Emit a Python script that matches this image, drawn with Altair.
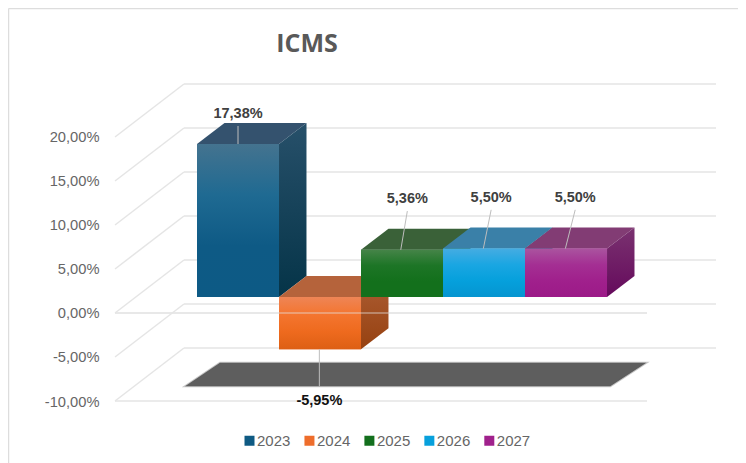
import altair as alt
import pandas as pd

YEARS = ["2023", "2024", "2025", "2026", "2027"]
VALUES = [17.38, -5.95, 5.36, 5.50, 5.50]
LABELS = ["17,38%", "-5,95%", "5,36%", "5,50%", "5,50%"]
TICKS = [-10, -5, 0, 5, 10, 15, 20]
FRONT_LINES = [-10, 0]

LEGEND_COLORS = ["#0f5a83", "#ee6d2b", "#136f1d", "#07a0dc", "#a0218c"]
FRONT_STOPS = [
    ["#44738f", "#1f6a92", "#0e5a85", "#0d5a85"],
    ["#ee8556", "#f4752f", "#ee6a1e", "#dd5f14"],
    ["#458448", "#1d7526", "#13701c", "#13701c"],
    ["#45ace2", "#1aa6e2", "#05a0dc", "#0595d0"],
    ["#aa549f", "#a42f93", "#a0208c", "#9c1a88"],
]
TOP_COLORS = ["#34526e", "#b5633b", "#3a6138", "#3a80a8", "#823c74"]
SIDE_STOPS = [
    ["#27506a", "#053448"],
    ["#ad5e35", "#964110"],
    ["#2f5a30", "#0c4a12"],
    ["#2b6a90", "#04688f"],
    ["#7a3270", "#650a5c"],
]
# Leader lines: shift from face centre (categories) and length (percentage points)
LEADER_START = [0.0, -0.008, -0.015, -0.008, -0.008]
LEADER_DX = [0.0, 0.0, 0.08, 0.095, 0.12]
LEADER_DY = [2.05, -4.2, 4.4, 4.4, 4.4]
LABEL_GAP = [1.35, -1.7, 1.35, 1.35, 1.35]
LABEL_COLORS = ["#404040", "#111111", "#404040", "#404040", "#404040"]

# Projection constants
WALL_DX, WALL_DY = 0.841, 6.02     # back wall offset from the axis plane
BAR_DX, BAR_DY = 0.335, 2.386      # bar depth
BASE = 1.82                        # bars' zero level relative to the axis plane
X_MIN, X_MAX = -1.0, 6.329
Y_MIN, Y_MAX = -10.0, 26.02
RIGHT_BACK = 6.329
RIGHT_FRONT = RIGHT_BACK - WALL_DX
SHADOW_Y = [-8.32, -5.66]
SHADOW_L = [-0.146, 0.28]
SHADOW_R = [5.04, 5.48]
GRID = "#e5e5e5"
FONT = "Liberation Sans"

xs = alt.Scale(domain=[X_MIN, X_MAX], nice=False, zero=False)
ys = alt.Scale(domain=[Y_MIN, Y_MAX], nice=False, zero=False)
y_axis = alt.Axis(
    values=TICKS, domain=False, ticks=False, grid=False, labelPadding=16,
    labelFontSize=14.7, labelColor="#666666", labelFont=FONT, labelOffset=1,
    labelExpr="replace(replace(format(datum.value,'.2f'),'.',','),'\u2212','-')+'%'",
)


def X(f="x"):
    return alt.X(f"{f}:Q", scale=xs, axis=None)


def Y(f="y"):
    return alt.Y(f"{f}:Q", scale=ys, axis=y_axis, title=None)


def grad(colors):
    n = len(colors) - 1
    return alt.LinearGradient(
        gradient="linear", x1=0, x2=0, y1=0, y2=1,
        stops=[alt.GradientStop(color=c, offset=i / n) for i, c in enumerate(colors)],
    )


layers = []

# wall and diagonal grid
back = pd.DataFrame({"y": [t + WALL_DY for t in TICKS]})
back["x"] = X_MIN + WALL_DX
back["x2"] = RIGHT_BACK
diag_rows = []
for t in TICKS:
    diag_rows += [{"t": t, "x": X_MIN, "y": t}, {"t": t, "x": X_MIN + WALL_DX, "y": t + WALL_DY}]
front = pd.DataFrame({"y": FRONT_LINES})
front["x"] = X_MIN
front["x2"] = RIGHT_FRONT
layers.append(alt.Chart(back).mark_rule(color=GRID, strokeWidth=1.5).encode(x=X(), x2="x2:Q", y=Y()))
layers.append(alt.Chart(pd.DataFrame(diag_rows)).mark_line(color=GRID, strokeWidth=1.5).encode(
    x=X(), y=Y(), detail="t:N"))
layers.append(alt.Chart(front).mark_rule(color=GRID, strokeWidth=1.5).encode(x=X(), x2="x2:Q", y=Y()))

# floor shadow
shadow = pd.DataFrame({"y": SHADOW_Y, "l": SHADOW_L, "r": SHADOW_R})
layers.append(
    alt.Chart(shadow).mark_area(orient="horizontal", color="#5e5e5e", stroke="#5e5e5e",
                                strokeWidth=2, strokeOpacity=0.35).encode(
        y=Y(), x=X("l"), x2="r:Q")
)

# legend-bearing base faces
base_df = pd.DataFrame({
    "year": YEARS,
    "x": list(range(5)),
    "x2": [i + 1 for i in range(5)],
    "y": [BASE] * 5,
    "y2": [BASE + v for v in VALUES],
})
layers.append(
    alt.Chart(base_df).mark_rect().encode(
        x=X(), x2="x2:Q", y=Y(), y2="y2:Q",
        color=alt.Color("year:N", scale=alt.Scale(domain=YEARS, range=LEGEND_COLORS),
                        legend=alt.Legend(
                            title=None, orient="none", legendX=127, legendY=349,
                            direction="horizontal", columns=5, symbolType="square",
                            symbolSize=100, symbolStrokeWidth=0, labelFontSize=15,
                            labelColor="#666666", labelFont=FONT, columnPadding=10.95,
                            labelOffset=0,
                        )),
    )
)

# bars: painter's order, left to right
for i, v in enumerate(VALUES):
    hi = BASE + max(v, 0)
    lo = BASE + min(v, 0)
    top = pd.DataFrame({
        "y": [hi, hi + BAR_DY],
        "l": [i, i + BAR_DX],
        "r": [i + 1, i + 1 + BAR_DX],
    })
    side = pd.DataFrame({
        "x": [i + 1, i + 1 + BAR_DX],
        "y": [hi, hi + BAR_DY],
        "y2": [lo, lo + BAR_DY],
    })
    face = pd.DataFrame({"x": [i], "x2": [i + 1], "y": [hi], "y2": [lo]})
    layers.append(alt.Chart(top).mark_area(orient="horizontal", color=TOP_COLORS[i]).encode(
        y=Y(), x=X("l"), x2="r:Q"))
    layers.append(alt.Chart(side).mark_area(orient="vertical", fill=grad(SIDE_STOPS[i])).encode(
        x=X(), y=Y(), y2="y2:Q"))
    layers.append(alt.Chart(face).mark_rect(fill=grad(FRONT_STOPS[i])).encode(
        x=X(), x2="x2:Q", y=Y(), y2="y2:Q"))

# zero line shows faintly through the bars
zero = front[front["y"] == 0]
layers.append(alt.Chart(zero).mark_rule(color=GRID, strokeWidth=1.5, opacity=0.5).encode(
    x=X(), x2="x2:Q", y=Y()))

# leaders and labels
lead_rows = []
text_rows = []
for i, v in enumerate(VALUES):
    x0 = i + 0.5 + LEADER_START[i]
    y0 = BASE + v
    x1 = x0 + LEADER_DX[i]
    y1 = y0 + LEADER_DY[i]
    lead_rows += [{"i": i, "x": x0, "y": y0}, {"i": i, "x": x1, "y": y1}]
    text_rows.append({"x": x1, "y": y1 + LABEL_GAP[i], "label": LABELS[i], "c": LABEL_COLORS[i]})
layers.append(alt.Chart(pd.DataFrame(lead_rows)).mark_line(color="#bdbdbd", strokeWidth=1).encode(
    x=X(), y=Y(), detail="i:N"))
layers.append(alt.Chart(pd.DataFrame(text_rows)).mark_text(
    fontSize=14.5, fontWeight="bold", font=FONT, baseline="middle", align="center").encode(
    x=X(), y=Y(), text="label:N", color=alt.Color("c:N", scale=None, legend=None)))

# chart title
layers.append(alt.Chart(pd.DataFrame({"t": ["ICMS"]})).mark_text(
    fontSize=25, fontWeight="bold", font="Open Sans", color="#595959",
    align="center", baseline="middle").encode(
    x=alt.value(192), y=alt.value(-40), text="t:N"))

# outer frame of the pasted picture
layers.append(alt.Chart(pd.DataFrame({"a": [0]})).mark_rule(color="#dddddd", strokeWidth=1.5).encode(
    x=alt.value(-106.5), y=alt.value(-75.5), y2=alt.value(379)))
layers.append(alt.Chart(pd.DataFrame({"a": [0]})).mark_rule(color="#dddddd", strokeWidth=1.5).encode(
    x=alt.value(-106.5), x2=alt.value(623), y=alt.value(-75.5)))

chart = alt.layer(*layers).properties(
    width=601, height=317,
    autosize=alt.AutoSizeParams(type="none"),
    padding={"left": 107, "top": 76, "right": 22, "bottom": 62},
    background="white",
).configure_view(stroke=None)

chart.save("out.html", embed_options={"renderer": "svg", "actions": False})
